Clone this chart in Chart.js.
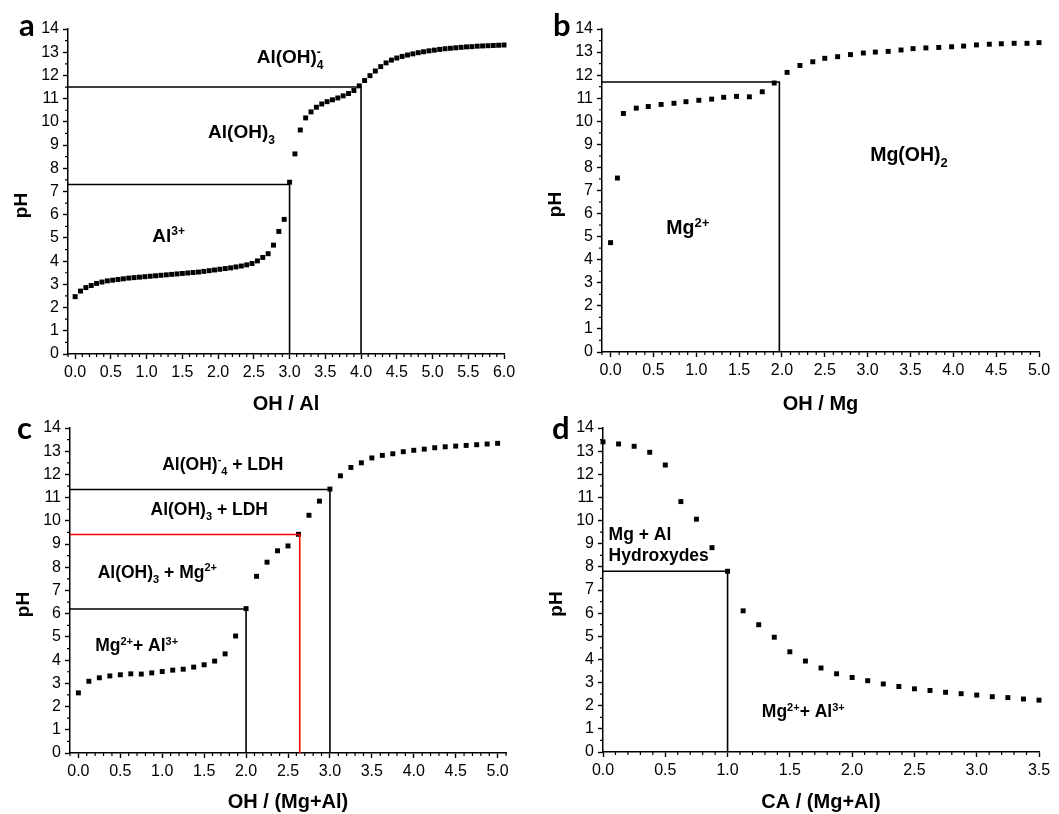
<!DOCTYPE html>
<html>
<head>
<meta charset="utf-8">
<script src="https://cdn.jsdelivr.net/npm/chart.js@4.4.1/dist/chart.umd.min.js"></script>
<style>
  html, body { margin: 0; padding: 0; background: #fff; }
  #wrap { position: relative; width: 1059px; height: 814px; overflow: hidden; }
  canvas { position: absolute; }
</style>
</head>
<body>
<div id="wrap">
  <canvas id="chartA" width="530" height="416" style="left:0px;top:0px"></canvas>
  <canvas id="chartB" width="529" height="416" style="left:530px;top:0px"></canvas>
  <canvas id="chartC" width="530" height="407" style="left:0px;top:407px"></canvas>
  <canvas id="chartD" width="529" height="407" style="left:530px;top:407px"></canvas>
</div>
<script>
// ---- data ----
const yTicks = [0, 1, 2, 3, 4, 5, 6, 7, 8, 9, 10, 11, 12, 13, 14];

// a: OH / Al
const aTicks = [0, 0.5, 1, 1.5, 2, 2.5, 3, 3.5, 4, 4.5, 5, 5.5, 6];
const aX = [0, 0.075, 0.15, 0.225, 0.3, 0.375, 0.45, 0.525, 0.6, 0.675, 0.75, 0.825, 0.9, 0.975,
  1.05, 1.125, 1.2, 1.275, 1.35, 1.425, 1.5, 1.575, 1.65, 1.725, 1.8, 1.875, 1.95, 2.025, 2.1,
  2.175, 2.25, 2.325, 2.4, 2.475, 2.55, 2.625, 2.7, 2.775, 2.85, 2.925, 3.0, 3.075, 3.15, 3.225,
  3.3, 3.375, 3.45, 3.525, 3.6, 3.675, 3.75, 3.825, 3.9, 3.975, 4.05, 4.125, 4.2, 4.275, 4.35,
  4.425, 4.5, 4.575, 4.65, 4.725, 4.8, 4.875, 4.95, 5.025, 5.1, 5.175, 5.25, 5.325, 5.4, 5.475,
  5.55, 5.625, 5.7, 5.775, 5.85, 5.925, 6.0];
const aPH = [2.47, 2.71, 2.86, 2.95, 3.04, 3.10, 3.15, 3.18, 3.21, 3.24, 3.27, 3.29, 3.31, 3.33,
  3.35, 3.37, 3.39, 3.41, 3.43, 3.45, 3.47, 3.49, 3.51, 3.53, 3.56, 3.59, 3.62, 3.65, 3.68,
  3.71, 3.75, 3.79, 3.84, 3.90, 4.01, 4.16, 4.32, 4.69, 5.28, 5.80, 7.40, 8.62, 9.65, 10.17,
  10.43, 10.63, 10.77, 10.87, 10.95, 11.03, 11.12, 11.22, 11.35, 11.55, 11.78, 11.99, 12.19, 12.38, 12.54,
  12.66, 12.75, 12.82, 12.88, 12.93, 12.98, 13.02, 13.06, 13.09, 13.12, 13.15, 13.17, 13.19, 13.21, 13.23,
  13.24, 13.26, 13.27, 13.28, 13.29, 13.30, 13.31];
const aDrops = [[4.0, 11.5, '#000'], [3.0, 7.3, '#000']];

// b: OH / Mg
const bTicks = [0, 0.5, 1, 1.5, 2, 2.5, 3, 3.5, 4, 4.5, 5];
const bX = [0, 0.08, 0.15, 0.30, 0.44, 0.59, 0.74, 0.88, 1.03, 1.18, 1.32, 1.47, 1.62, 1.77, 1.91,
  2.06, 2.21, 2.36, 2.50, 2.65, 2.80, 2.95, 3.09, 3.24, 3.39, 3.53, 3.68, 3.83, 3.98, 4.12,
  4.27, 4.42, 4.56, 4.71, 4.86, 5.0];
const bPH = [4.74, 7.54, 10.34, 10.57, 10.64, 10.73, 10.78, 10.85, 10.91, 10.96, 11.04, 11.08, 11.06, 11.28, 11.66,
  12.12, 12.42, 12.58, 12.73, 12.80, 12.89, 12.96, 13.00, 13.03, 13.09, 13.15, 13.18, 13.20, 13.23, 13.26,
  13.31, 13.34, 13.36, 13.38, 13.38, 13.41];
const bDrops = [[1.97, 11.7, '#000']];

// c: OH / (Mg+Al)
const cTicks = [0, 0.5, 1, 1.5, 2, 2.5, 3, 3.5, 4, 4.5, 5];
const cX = [0, 0.125, 0.25, 0.375, 0.5, 0.625, 0.75, 0.875, 1.0, 1.125, 1.25, 1.375, 1.5, 1.625,
  1.75, 1.875, 2.0, 2.125, 2.25, 2.375, 2.5, 2.625, 2.75, 2.875, 3.0, 3.125, 3.25, 3.375, 3.5,
  3.625, 3.75, 3.875, 4.0, 4.125, 4.25, 4.375, 4.5, 4.625, 4.75, 4.875, 5.0];
const cPH = [2.59, 3.09, 3.24, 3.32, 3.37, 3.41, 3.40, 3.45, 3.51, 3.57, 3.61, 3.70, 3.80, 3.96,
  4.27, 5.04, 6.22, 7.61, 8.22, 8.71, 8.92, 9.42, 10.24, 10.85, 11.37, 11.94, 12.30, 12.50, 12.71,
  12.82, 12.89, 12.98, 13.04, 13.09, 13.15, 13.19, 13.22, 13.25, 13.28, 13.31, 13.34];
const cDrops = [[3.0, 11.35, '#000'], [2.64, 9.41, '#ff0000'], [2.0, 6.2, '#000']];

// d: CA / (Mg+Al)
const dTicks = [0, 0.5, 1, 1.5, 2, 2.5, 3, 3.5];
const dCA = [0, 0.125, 0.25, 0.375, 0.5, 0.625, 0.75, 0.875, 1.0, 1.125, 1.25, 1.375, 1.5, 1.625,
  1.75, 1.875, 2.0, 2.125, 2.25, 2.375, 2.5, 2.625, 2.75, 2.875, 3.0, 3.125, 3.25, 3.375, 3.5];
const dPH = [13.40, 13.31, 13.21, 12.95, 12.40, 10.82, 10.06, 8.83, 7.81, 6.10, 5.50, 4.96, 4.33, 3.93,
  3.63, 3.38, 3.22, 3.08, 2.94, 2.83, 2.73, 2.66, 2.58, 2.52, 2.46, 2.39, 2.35, 2.29, 2.24];
const dDrops = [[1.0, 7.81, '#000']];

// region labels: [x, pH baseline, parts]; part kinds: sup, sub, supk (sup without advancing)
const aLabels = [
  [2.54, 12.53, [['Al(OH)'], ['-', 'supk'], ['4', 'sub']]],
  [1.86, 9.30, [['Al(OH)'], ['3', 'sub']]],
  [1.08, 4.83, [['Al'], ['3+', 'sup']]],
];
const bLabels = [
  [3.03, 8.28, [['Mg(OH)'], ['2', 'sub']]],
  [0.65, 5.10, [['Mg'], ['2+', 'sup']]],
];
const cLabels = [
  [1.0, 12.21, [['Al(OH)'], ['-', 'sup'], ['4', 'sub'], [' + LDH']]],
  [0.86, 10.27, [['Al(OH)'], ['3', 'sub'], [' + LDH']]],
  [0.23, 7.55, [['Al(OH)'], ['3', 'sub'], [' + Mg'], ['2+', 'sup']]],
  [0.2, 4.38, [['Mg'], ['2+', 'sup'], ['+ Al'], ['3+', 'sup']]],
];
const dLabels = [
  [0.045, 9.18, [['Mg + Al']]],
  [0.045, 8.25, [['Hydroxydes']]],
  [1.275, 1.52, [['Mg'], ['2+', 'sup'], ['+ Al'], ['3+', 'sup']]],
];

const FONT = '"Liberation Sans", Arial, sans-serif';
Chart.defaults.font.family = FONT;
Chart.defaults.color = '#000';

function drawRich(ctx, x0, y0, parts, size) {
  let x = x0;
  const small = Math.round(size * 0.65);
  for (const [text, kind = ''] of parts) {
    const sup = kind.startsWith('sup');
    const sub = kind.startsWith('sub');
    ctx.font = `bold ${sup || sub ? small : size}px ${FONT}`;
    const dy = sup ? -size * 0.36 : sub ? size * 0.3 : 0;
    ctx.fillText(text, x, y0 + dy);
    if (!kind.endsWith('k')) x += ctx.measureText(text).width;
  }
}

// minor ticks, pH title, panel letter, region labels
const panelDecor = {
  id: 'panelDecor',
  afterDraw(chart, args, opts) {
    const { ctx, chartArea: ca, scales: { x, y } } = chart;
    ctx.save();
    ctx.strokeStyle = '#000';
    ctx.lineWidth = 1.2;
    ctx.beginPath();
    for (let i = Math.ceil(x.min * 10 - 1e-6); i <= Math.floor(x.max * 10 + 1e-6); i++) {
      if (i % 5 === 0) continue;
      const px = x.getPixelForValue(i / 10);
      ctx.moveTo(px, ca.bottom);
      ctx.lineTo(px, ca.bottom + 3);
    }
    for (let i = 1; i < 28; i += 2) {
      const py = y.getPixelForValue(i / 2);
      ctx.moveTo(ca.left, py);
      ctx.lineTo(ca.left - 3, py);
    }
    ctx.stroke();

    ctx.fillStyle = '#000';
    // y title
    ctx.save();
    ctx.translate(ca.left - 46, (ca.top + ca.bottom) / 2 + 14);
    ctx.rotate(-Math.PI / 2);
    ctx.font = `bold 19px ${FONT}`;
    ctx.textAlign = 'center';
    ctx.textBaseline = 'middle';
    ctx.fillText('pH', 0, 0);
    ctx.restore();

    // panel letter
    ctx.font = 'bold 31px Lato, "Open Sans", sans-serif';
    ctx.textBaseline = 'alphabetic';
    ctx.fillText(opts.letter, ca.left + opts.letterPos[0], ca.top + opts.letterPos[1]);

    for (const [lx, ly, parts] of opts.labels) {
      drawRich(ctx, x.getPixelForValue(lx), y.getPixelForValue(ly), parts, opts.labelSize);
    }
    ctx.restore();
  }
};

function buildChart(id, p) {
  const points = p.xs.map((x, i) => ({ x, y: p.ys[i] }));
  const dropSets = p.drops.map(([x, y, color]) => ({
    data: [{ x: p.xMin, y }, { x, y }, { x, y: 0 }],
    showLine: true,
    borderColor: color,
    borderWidth: 1.6,
    pointRadius: 0,
    fill: false,
    clip: false,
  }));
  return new Chart(document.getElementById(id), {
    type: 'scatter',
    data: {
      datasets: [...dropSets, {
        data: points,
        pointStyle: 'rect',
        pointRadius: 3.5,
        backgroundColor: '#000',
        borderWidth: 0,
        clip: false,
      }],
    },
    options: {
      responsive: false,
      animation: false,
      events: [],
      layout: { padding: { top: p.area[1], right: p.area[2], left: 0, bottom: 0 } },
      plugins: {
        legend: { display: false },
        tooltip: { enabled: false },
        panelDecor: { letter: p.letter, letterPos: p.letterPos, labels: p.labels, labelSize: p.labelSize },
      },
      scales: {
        x: {
          type: 'linear',
          min: p.xMin,
          max: p.xMax,
          afterBuildTicks: (s) => { s.ticks = p.xTicks.map((v) => ({ value: v })); },
          afterFit: (s) => { s.height = p.area[3]; },
          ticks: { autoSkip: false, maxRotation: 0, padding: 4, color: '#000', font: { size: 16 },
            callback: (v) => Number(v).toFixed(1) },
          grid: { drawOnChartArea: false, tickLength: 5, tickWidth: 1.4, tickColor: '#000' },
          border: { color: '#000', width: 1.5 },
          title: { display: true, text: p.xTitle, color: '#000', font: { size: 20, weight: 'bold' }, padding: 0 },
        },
        y: {
          type: 'linear',
          min: 0,
          max: 14,
          afterBuildTicks: (s) => { s.ticks = yTicks.map((v) => ({ value: v })); },
          afterFit: (s) => { s.width = p.area[0]; },
          ticks: { autoSkip: false, padding: 4, color: '#000', font: { size: 16 } },
          grid: { drawOnChartArea: false, tickLength: 5, tickWidth: 1.4, tickColor: '#000' },
          border: { color: '#000', width: 1.5 },
        },
      },
    },
    plugins: [panelDecor],
  });
}

// area: [left, top, right pad, x-axis height]
buildChart('chartA', { xs: aX, ys: aPH, drops: aDrops, xMin: -0.1, xMax: 6.0, xTicks: aTicks,
  xTitle: 'OH / Al', area: [68, 29, 26, 62], letter: 'a', letterPos: [-49, 7], labels: aLabels, labelSize: 19 });
buildChart('chartB', { xs: bX, ys: bPH, drops: bDrops, xMin: -0.1, xMax: 5.0, xTicks: bTicks,
  xTitle: 'OH / Mg', area: [72, 29, 20, 64], letter: 'b', letterPos: [-49, 7], labels: bLabels, labelSize: 19.5 });
buildChart('chartC', { xs: cX, ys: cPH, drops: cDrops, xMin: -0.1, xMax: 5.1, xTicks: cTicks,
  xTitle: 'OH / (Mg+Al)', area: [70, 21, 24, 61], letter: 'c', letterPos: [-53, 11], labels: cLabels, labelSize: 17.5 });
buildChart('chartD', { xs: dCA, ys: dPH, drops: dDrops, xMin: 0, xMax: 3.5, xTicks: dTicks,
  xTitle: 'CA / (Mg+Al)', area: [73, 21, 20, 62], letter: 'd', letterPos: [-51, 11], labels: dLabels, labelSize: 17.5 });
</script>
</body>
</html>
